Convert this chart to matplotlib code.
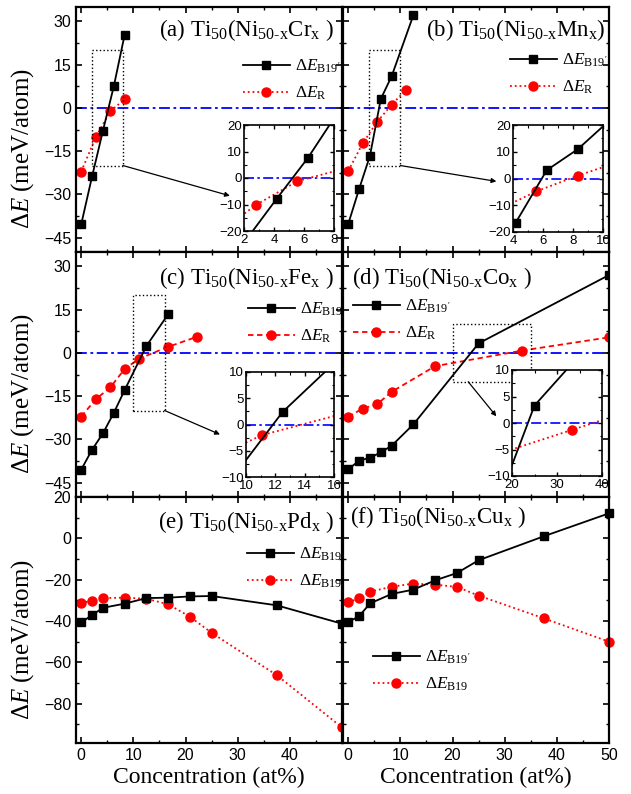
import matplotlib
matplotlib.use('Agg')
import matplotlib.pyplot as plt
from matplotlib.ticker import MultipleLocator, FixedLocator
from matplotlib.patches import Rectangle

plt.rcParams['font.family'] = ['Liberation Serif', 'DejaVu Serif']
plt.rcParams['mathtext.fontset'] = 'custom'
plt.rcParams['mathtext.rm'] = 'Liberation Serif'
plt.rcParams['mathtext.it'] = 'Liberation Serif:italic'
plt.rcParams['mathtext.bf'] = 'Liberation Serif:bold'
plt.rcParams['xtick.direction'] = 'in'
plt.rcParams['ytick.direction'] = 'in'
plt.rcParams['xtick.top'] = True
plt.rcParams['ytick.right'] = True

# ---------------- data ----------------
# (a) Cr
cr_x_b19p = [0, 2.08, 4.17, 6.25, 8.33]
cr_b19p = [-40.4, -23.8, -7.9, 7.5, 25.4]
cr_x_r = [0, 2.78, 5.56, 8.33]
cr_r = [-22.1, -10.2, -1.2, 3.0]
# (b) Mn
mn_x_b19p = [0, 2.08, 4.17, 6.25, 8.33, 12.5]
mn_b19p = [-40.3, -28.2, -16.6, 3.1, 11.0, 32.2]
mn_x_r = [0, 2.78, 5.56, 8.33, 11.11]
mn_r = [-21.9, -12.3, -4.8, 1.1, 6.3]
# (c) Fe
fe_x_b19p = [0, 2.08, 4.17, 6.25, 8.33, 12.5, 16.67]
fe_b19p = [-40.5, -33.6, -27.9, -20.8, -12.9, 2.4, 13.4]
fe_x_r = [0, 2.78, 5.56, 8.33, 11.11, 16.67, 22.22]
fe_r = [-22.1, -16.1, -12.0, -5.6, -2.0, 2.1, 5.6]
# (d) Co
co_x_b19p = [0, 2.08, 4.17, 6.25, 8.33, 12.5, 25, 50]
co_b19p = [-40.4, -37.4, -36.4, -34.5, -32.2, -24.8, 3.3, 27.0]
co_x_r = [0, 2.78, 5.56, 8.33, 16.67, 33.33, 50]
co_r = [-22.2, -19.3, -17.8, -13.5, -4.6, 0.8, 5.4]
co_inset_x_r = [16.67, 33.33, 50]
co_inset_r = [-5.9, -1.3, 3.3]
# (e) Pd and (f) Cu
x_all = [0, 2.08, 4.17, 8.33, 12.5, 16.67, 20.83, 25, 37.5, 50]
pd_b19p = [-40.7, -37.1, -33.6, -31.6, -28.9, -28.7, -28.1, -27.9, -32.4, -41.3]
pd_b19 = [-31.1, -30.3, -28.9, -28.7, -29.2, -31.9, -37.9, -45.7, -66.2, -91.5]
cu_b19p = [-40.5, -37.7, -31.5, -26.9, -24.8, -20.3, -16.8, -10.6, 1.0, 12.1]
cu_b19 = [-31.0, -29.0, -25.8, -23.4, -21.9, -22.4, -23.5, -27.7, -38.7, -50.0]

titles = [r'(a) Ti$_{50}$(Ni$_{\mathrm{50\text{-}x}}$Cr$_{\mathrm{x}}$ )',
          r'(b) Ti$_{50}$(Ni$_{\mathrm{50\text{-}x}}$Mn$_{\mathrm{x}}$)',
          r'(c) Ti$_{50}$(Ni$_{\mathrm{50\text{-}x}}$Fe$_{\mathrm{x}}$ )',
          r'(d) Ti$_{50}$(Ni$_{\mathrm{50\text{-}x}}$Co$_{\mathrm{x}}$ )',
          r'(e) Ti$_{50}$(Ni$_{\mathrm{50\text{-}x}}$Pd$_{\mathrm{x}}$ )',
          r'(f) Ti$_{50}$(Ni$_{\mathrm{50\text{-}x}}$Cu$_{\mathrm{x}}$ )']
lab_b19p = r"$\Delta E_{\mathrm{B19'}}$"
lab_r = r"$\Delta E_{\mathrm{R}}$"
lab_b19 = r"$\Delta E_{\mathrm{B19}}$"

W, H = 631, 794
fig = plt.figure(figsize=(W/100, H/100), dpi=100)


def pax(x0, y0, x1, y1):
    return fig.add_axes([x0/W, 1 - y1/H, (x1 - x0)/W, (y1 - y0)/H])


cols = [(76, 342), (343, 609)]
rows = [(7, 252), (252, 497), (497, 743)]
axes = [[pax(c[0], r[0], c[1], r[1]) for c in cols] for r in rows]

MS_SQ = 5.5
MS_CI = 6.5
LW = 1.3


def style_main(ax, row, col):
    for s in ax.spines.values():
        s.set_linewidth(1.6)
    ax.set_xlim(-1, 50)
    ax.xaxis.set_major_locator(MultipleLocator(10))
    ax.xaxis.set_minor_locator(MultipleLocator(5))
    if row < 2:
        ax.set_ylim(-50, 35)
        ax.yaxis.set_major_locator(FixedLocator([-45, -30, -15, 0, 15, 30]))
        ax.yaxis.set_minor_locator(MultipleLocator(7.5))
    else:
        ax.set_ylim(-99, 20)
        ax.yaxis.set_major_locator(MultipleLocator(20))
        ax.yaxis.set_minor_locator(MultipleLocator(10))
    ax.tick_params(which='major', length=4, width=1.2, labelsize=11.5,
                   labelfontfamily='Liberation Sans')
    ax.tick_params(which='minor', length=2.5, width=1.0)
    ax.tick_params(labelbottom=(row == 2), labelleft=(col == 0))
    if row == 2 and col == 0:
        ax.set_xticks([0, 10, 20, 30, 40, 50])
        ax.set_xticklabels(['0', '10', '20', '30', '40', ''])


for r in range(3):
    for c in range(2):
        style_main(axes[r][c], r, c)

sets = [
    (axes[0][0], cr_x_b19p, cr_b19p, cr_x_r, cr_r, ':'),
    (axes[0][1], mn_x_b19p, mn_b19p, mn_x_r, mn_r, ':'),
    (axes[1][0], fe_x_b19p, fe_b19p, fe_x_r, fe_r, (0, (3, 2))),
    (axes[1][1], co_x_b19p, co_b19p, co_x_r, co_r, (0, (3, 2))),
]


def zero_line(ax, lw=1.3):
    ax.axhline(0, color='#0000ff', lw=lw, dashes=(6, 2, 1.5, 2), zorder=1)


handles_all = []
for ax, xb, yb, xr, yr, rls in sets:
    zero_line(ax)
    hb, = ax.plot(xb, yb, '-', color='k', lw=LW, marker='s', ms=MS_SQ, zorder=3, label=lab_b19p)
    hr, = ax.plot(xr, yr, color='#ff0000', ls=rls, lw=LW, marker='o', ms=MS_CI, zorder=2, label=lab_r)
    handles_all.append((hb, hr))

axe, axf = axes[2]
he1, = axe.plot(x_all, pd_b19p, '-', color='k', lw=LW, marker='s', ms=MS_SQ, zorder=3, label=lab_b19p)
he2, = axe.plot(x_all, pd_b19, color='#ff0000', ls=':', lw=LW, marker='o', ms=MS_CI, zorder=2, label=lab_b19, clip_on=False)
hf1, = axf.plot(x_all, cu_b19p, '-', color='k', lw=LW, marker='s', ms=MS_SQ, zorder=3, label=lab_b19p, clip_on=False)
hf2, = axf.plot(x_all, cu_b19, color='#ff0000', ls=':', lw=LW, marker='o', ms=MS_CI, zorder=2, label=lab_b19, clip_on=False)
handles_all.append((he1, he2))
handles_all.append((hf1, hf2))

# titles
title_pos = [(334, 36, 'right'), (605, 36, 'right'), (334, 284, 'right'),
             (352, 284, 'left'), (334, 528, 'right'), (350, 523, 'left')]
for t, (px, py, ha) in zip(titles, title_pos):
    fig.text(px/W, 1 - py/H, t, ha=ha, va='baseline', fontsize=16.5)

# legends
leg_pos = [(243, 80), (510, 74), (248, 323), (353, 320), (247, 568), (373, 671)]
all_axes = [axes[0][0], axes[0][1], axes[1][0], axes[1][1], axe, axf]
for ax, (h1, h2), (px, py) in zip(all_axes, handles_all, leg_pos):
    ax.legend([h1, h2], [h1.get_label(), h2.get_label()], loc='center left',
              bbox_to_anchor=(px/W, 1 - py/H), bbox_transform=fig.transFigure,
              frameon=False, fontsize=12.5, handlelength=2.7, handletextpad=0.3,
              labelspacing=0.55, borderpad=0, borderaxespad=0)

# axis labels
for r in range(3):
    axes[r][0].set_ylabel(r'$\Delta E$ (meV/atom)', fontsize=18)
    axes[r][0].yaxis.set_label_coords(-0.15, 0.42)
for c in range(2):
    axes[2][c].set_xlabel('Concentration (at%)', fontsize=17, labelpad=3)

# zoom rectangles and arrows
rect_specs = [
    (axes[0][0], (2, -20), 6, 40, (8, -20), (28.5, -30.5)),
    (axes[0][1], (4, -20), 6, 40, (10, -20), (28.4, -25.5)),
    (axes[1][0], (10, -20), 6, 40, (16, -20), (26.6, -28.3)),
    (axes[1][1], (20, -10), 15, 20, (23, -10), (28.4, -22.0)),
]
for ax, xy, w, h, a0, a1 in rect_specs:
    ax.add_patch(Rectangle(xy, w, h, fill=False, ls=':', lw=1.0, ec='k', zorder=4))
    ax.annotate('', xy=a1, xytext=a0,
                arrowprops=dict(arrowstyle='-|>', color='k', lw=0.9, mutation_scale=7,
                                shrinkA=0, shrinkB=0), zorder=4)

# insets
inset_specs = [
    ((244, 125, 334, 231), (2, 8), (-20, 20), 2, 1, 10, 5, 0),
    ((513, 125, 603, 232), (4, 10), (-20, 20), 2, 1, 10, 5, 1),
    ((246, 372, 334, 477), (10, 16), (-10, 10), 2, 1, 5, 2.5, 2),
    ((512, 370, 602, 476), (20, 40), (-10, 10), 10, 5, 5, 2.5, 3),
]
for (x0, y0, x1, y1), xl, yl, xmaj, xmin, ymaj, ymin, k in inset_specs:
    ia = pax(x0, y0, x1, y1)
    ia.set_zorder(10)
    for s in ia.spines.values():
        s.set_linewidth(1.2)
    _, xb, yb, xr, yr, rls = sets[k]
    if k == 3:
        xr, yr = co_inset_x_r, co_inset_r
    zero_line(ia, lw=1.2)
    ia.plot(xb, yb, '-', color='k', lw=LW, marker='s', ms=MS_SQ, zorder=3)
    ia.plot(xr, yr, color='#ff0000', ls=':', lw=1.3, marker='o', ms=MS_CI, zorder=2)
    ia.set_xlim(*xl)
    ia.set_ylim(*yl)
    ia.xaxis.set_major_locator(MultipleLocator(xmaj))
    ia.xaxis.set_minor_locator(MultipleLocator(xmin))
    ia.yaxis.set_major_locator(MultipleLocator(ymaj))
    ia.yaxis.set_minor_locator(MultipleLocator(ymin))
    ia.tick_params(which='major', length=3, width=1.0, labelsize=9.5, pad=1.5,
                   labelfontfamily='Liberation Sans')
    ia.tick_params(axis='x', which='major', pad=2.5)
    ia.tick_params(which='minor', length=1.8, width=0.8)

fig.savefig('out.png', dpi=100)
